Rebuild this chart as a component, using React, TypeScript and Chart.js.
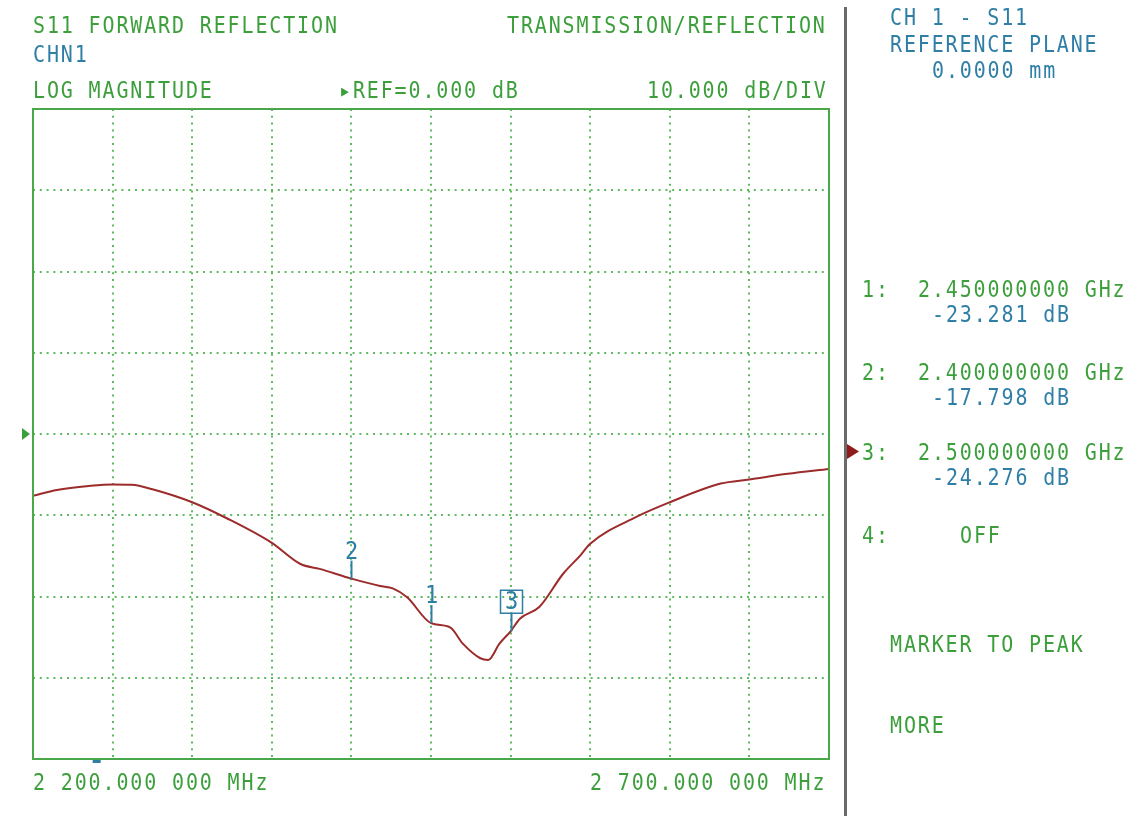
import React, { useEffect, useRef } from "react";
import { Chart, registerables } from "chart.js";

Chart.register(...registerables);

// ---- data ----
const FREQ_MHZ = [
  2200, 2215, 2235, 2250, 2262, 2275, 2300, 2322, 2350, 2368, 2380, 2400, 2418,
  2426, 2435, 2450, 2462, 2470, 2481, 2486, 2493, 2500, 2506, 2518, 2533, 2544, 2550,
  2579, 2600, 2632, 2650, 2674, 2700,
];
const S11_DB = [
  -7.6, -6.9, -6.4, -6.2, -6.25, -6.8, -8.4, -10.4, -13.4, -16.0, -16.6, -17.8, -18.7,
  -19.0, -20.1, -23.28, -23.8, -25.8, -27.6, -27.8, -25.8, -24.28, -22.7, -21.3, -17.2, -14.9, -13.5,
  -10.2, -8.4, -6.1, -5.6, -4.9, -4.3,
];
const MARKER_IDS = ["1", "2", "3"];
const MARKER_FREQ_MHZ = [2450, 2400, 2500];
const MARKER_DB = [-23.281, -17.798, -24.276];
const ACTIVE_MARKER = "3";
const START_MHZ = 2200;
const STOP_MHZ = 2700;
const X_DIVISIONS = 10;
const REF_DB = 0;
const DB_PER_DIV = 10;
const Y_DIVS_ABOVE_REF = 4;
const STIM_MARK_MHZ = 2240;

// ---- styles ----
const GREEN = "#3c9f3c";
const FRAME_GREEN = "#4aa84a";
const GRID_GREEN = "#5fba5f";
const BLUE = "#2f7ea6";
const TRACE = "#9c2b2b";
const FONT = '"DejaVu Sans Mono", monospace';

const fmtMHz = (mhz: number) => {
  const s = mhz.toFixed(0);
  const head = s.slice(0, s.length - 3);
  const tail = s.slice(s.length - 3);
  return `${head} ${tail}.000 000 MHz`;
};

const overlay = {
  id: "vnaOverlay",
  afterDatasetsDraw(chart: any) {
    const { ctx, chartArea: a, scales } = chart;
    const xs = scales.x;
    const ys = scales.y;
    ctx.save();
    // frame
    ctx.strokeStyle = FRAME_GREEN;
    ctx.lineWidth = 2;
    ctx.strokeRect(a.left, a.top, a.right - a.left, a.bottom - a.top);

    // reference level triangle
    const ry = ys.getPixelForValue(REF_DB);
    ctx.fillStyle = GREEN;
    ctx.beginPath();
    ctx.moveTo(a.left - 11, ry - 6);
    ctx.lineTo(a.left - 11, ry + 6);
    ctx.lineTo(a.left - 3, ry);
    ctx.closePath();
    ctx.fill();

    // stimulus mark under the bottom edge
    ctx.fillStyle = BLUE;
    const sx = xs.getPixelForValue(STIM_MARK_MHZ);
    ctx.fillRect(sx - 4, a.bottom + 1, 8, 3);

    // markers
    ctx.strokeStyle = BLUE;
    ctx.fillStyle = BLUE;
    ctx.lineWidth = 2;
    ctx.font = `22px ${FONT}`;
    ctx.textAlign = "center";
    ctx.textBaseline = "alphabetic";
    MARKER_IDS.forEach((id, i) => {
      const px = Math.round(xs.getPixelForValue(MARKER_FREQ_MHZ[i])) + 0.5;
      const py = ys.getPixelForValue(MARKER_DB[i]);
      ctx.beginPath();
      ctx.moveTo(px, py);
      ctx.lineTo(px, py - 18);
      ctx.stroke();
      ctx.save();
      if (id === ACTIVE_MARKER) {
        ctx.lineWidth = 1.5;
        ctx.strokeRect(px - 11, py - 41, 22, 23);
        ctx.translate(px, py - 22);
      } else {
        ctx.translate(px, py - 20);
      }
      ctx.scale(1, 1.12);
      ctx.fillText(id, 0, 0);
      ctx.restore();
    });

    // active marker arrow in the side panel
    ctx.fillStyle = "#8e1c1c";
    ctx.beginPath();
    ctx.moveTo(847, 444);
    ctx.lineTo(847, 459);
    ctx.lineTo(859, 451.5);
    ctx.closePath();
    ctx.fill();
    ctx.restore();
  },
};

function Txt({ text, x, base, color }: { text: string; x: number; base: number; color: string }) {
  return (
    <div
      style={{
        position: "absolute",
        left: x,
        top: base - 16.9,
        font: `20px ${FONT}`,
        lineHeight: "20px",
        letterSpacing: "1.86px",
        whiteSpace: "pre",
        color,
        transform: "scaleY(1.12)",
        transformOrigin: "0 16.9px",
      }}
    >
      {text}
    </div>
  );
}

export default function App() {
  const ref = useRef<HTMLCanvasElement | null>(null);

  useEffect(() => {
    if (!ref.current) return;
    const yMax = REF_DB + Y_DIVS_ABOVE_REF * DB_PER_DIV;
    const yMin = REF_DB - Y_DIVS_ABOVE_REF * DB_PER_DIV;
    const edgeHidden = (min: number, max: number) => (c: any) =>
      c.tick && (Math.abs(c.tick.value - min) < 1e-6 || Math.abs(c.tick.value - max) < 1e-6)
        ? "rgba(0,0,0,0)"
        : GRID_GREEN;
    const chart = new Chart(ref.current, {
      type: "line",
      data: {
        datasets: [
          {
            label: "S11",
            data: FREQ_MHZ.map((f, i) => ({ x: f, y: S11_DB[i] })),
            borderColor: TRACE,
            borderWidth: 2,
            pointRadius: 0,
            cubicInterpolationMode: "monotone",
          },
        ],
      },
      options: {
        animation: false,
        responsive: false,
        maintainAspectRatio: false,
        layout: { padding: { left: 33, top: 109, right: 302, bottom: 57 } },
        plugins: { legend: { display: false }, tooltip: { enabled: false }, title: { display: false } },
        scales: {
          x: {
            type: "linear",
            min: START_MHZ,
            max: STOP_MHZ,
            ticks: { display: false, stepSize: (STOP_MHZ - START_MHZ) / X_DIVISIONS },
            grid: { color: edgeHidden(START_MHZ, STOP_MHZ), lineWidth: 2, drawTicks: false },
            border: { display: false, dash: [2, 4.8] },
          },
          y: {
            type: "linear",
            min: yMin,
            max: yMax,
            ticks: { display: false, stepSize: DB_PER_DIV },
            grid: { color: edgeHidden(yMin, yMax), lineWidth: 2, drawTicks: false },
            border: { display: false, dash: [2, 4.8] },
          },
        },
      },
      plugins: [overlay],
    } as any);
    return () => chart.destroy();
  }, []);

  const readouts: React.ReactNode[] = [];
  const rowBase = [297, 380, 460];
  MARKER_IDS.forEach((id, i) => {
    readouts.push(<Txt key={"m" + id} text={`${id}:`} x={862} base={rowBase[i]} color={GREEN} />);
    readouts.push(
      <Txt key={"f" + id} text={`${(MARKER_FREQ_MHZ[i] / 1000).toFixed(9)} GHz`} x={918} base={rowBase[i]} color={GREEN} />
    );
    readouts.push(
      <Txt key={"v" + id} text={`${MARKER_DB[i].toFixed(3)} dB`} x={932} base={rowBase[i] + 25} color={BLUE} />
    );
  });

  return (
    <div style={{ position: "fixed", left: 0, top: 0, width: 1131, height: 816, background: "#fff", overflow: "hidden" }}>
      <canvas ref={ref} width={1131} height={816} style={{ position: "absolute", left: 0, top: 0, width: 1131, height: 816 }} />
      <div style={{ position: "absolute", left: 844, top: 7, width: 3, height: 809, background: "#6a6a6a" }} />
      <Txt text="S11 FORWARD REFLECTION" x={33} base={33} color={GREEN} />
      <Txt text="CHN1" x={33} base={62} color={BLUE} />
      <Txt text="LOG MAGNITUDE" x={33} base={98} color={GREEN} />
      <Txt text={`▸REF=${REF_DB.toFixed(3)} dB`} x={339} base={98} color={GREEN} />
      <Txt text="TRANSMISSION/REFLECTION" x={507} base={33} color={GREEN} />
      <Txt text={`${DB_PER_DIV.toFixed(3)} dB/DIV`} x={647} base={98} color={GREEN} />
      <Txt text="CH 1 - S11" x={890} base={25} color={BLUE} />
      <Txt text="REFERENCE PLANE" x={890} base={52} color={BLUE} />
      <Txt text="0.0000 mm" x={932} base={78} color={BLUE} />
      {readouts}
      <Txt text="4:" x={862} base={543} color={GREEN} />
      <Txt text="OFF" x={960} base={543} color={GREEN} />
      <Txt text="MARKER TO PEAK" x={890} base={652} color={GREEN} />
      <Txt text="MORE" x={890} base={733} color={GREEN} />
      <Txt text={fmtMHz(START_MHZ)} x={33} base={790} color={GREEN} />
      <Txt text={fmtMHz(STOP_MHZ)} x={590} base={790} color={GREEN} />
    </div>
  );
}
